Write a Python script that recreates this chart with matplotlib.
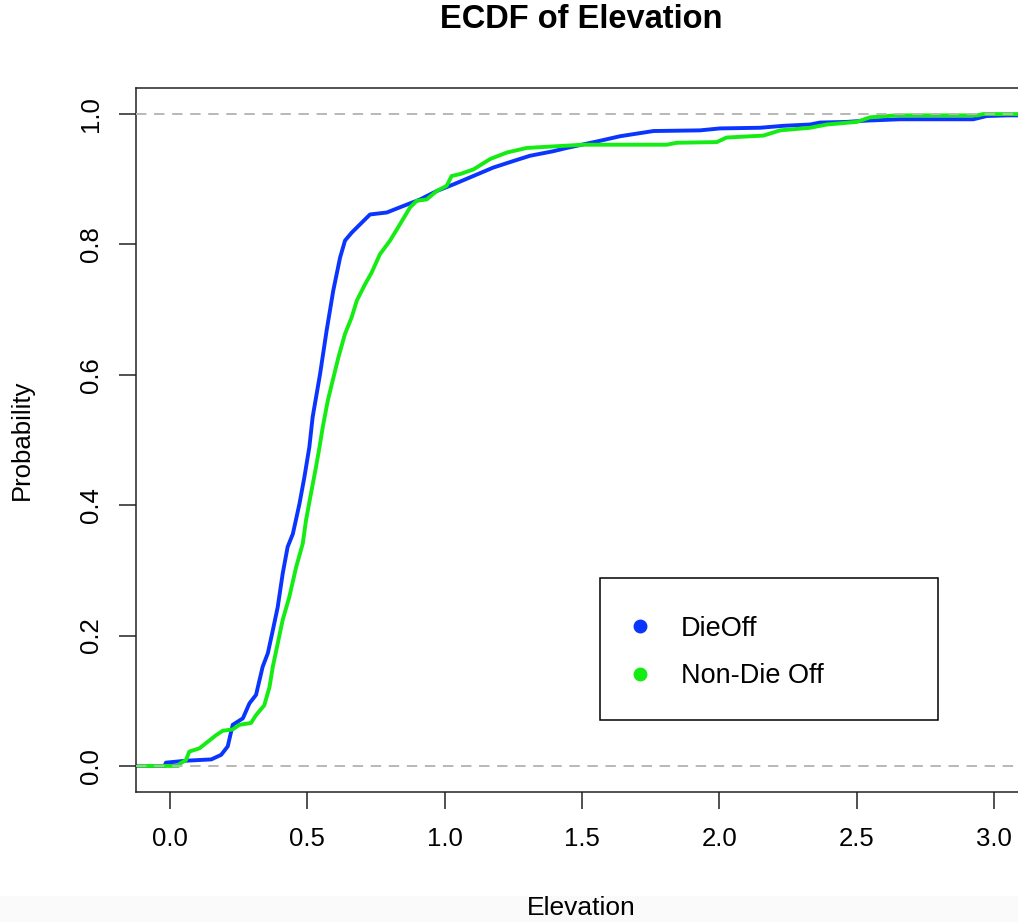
import matplotlib
matplotlib.use("Agg")
import matplotlib.pyplot as plt
from matplotlib.lines import Line2D
from matplotlib.patches import Rectangle

plt.rcParams['font.family'] = ['Liberation Sans', 'DejaVu Sans']
plt.rcParams['lines.scale_dashes'] = False

# ECDF (Elevation vs cumulative probability)
dieoff_x = [-0.02, -0.015, 0.058, 0.15, 0.186, 0.21, 0.228, 0.265, 0.289, 0.313, 0.337,
            0.356, 0.374, 0.392, 0.41, 0.428, 0.447, 0.471, 0.489, 0.507, 0.519, 0.546,
            0.570, 0.594, 0.619, 0.637, 0.661, 0.692, 0.728, 0.789, 0.837, 0.910, 0.971,
            1.031, 1.104, 1.177, 1.25, 1.31, 1.395, 1.444, 1.565, 1.638, 1.76, 1.929,
            2.002, 2.148, 2.233, 2.33, 2.366, 2.463, 2.536, 2.657, 2.924, 2.973, 3.05]
dieoff_y = [0.0, 0.005, 0.008, 0.01, 0.017, 0.03, 0.063, 0.073, 0.096, 0.109, 0.152,
            0.173, 0.208, 0.244, 0.295, 0.336, 0.356, 0.402, 0.443, 0.489, 0.535, 0.601,
            0.668, 0.729, 0.780, 0.806, 0.818, 0.831, 0.846, 0.849, 0.857, 0.869, 0.882,
            0.892, 0.905, 0.918, 0.928, 0.936, 0.943, 0.948, 0.959, 0.966, 0.974, 0.975,
            0.978, 0.979, 0.982, 0.984, 0.987, 0.988, 0.990, 0.992, 0.992, 0.997, 0.998]

nondie_x = [0.03, 0.034, 0.058, 0.070, 0.107, 0.131, 0.167, 0.192, 0.228, 0.252, 0.295,
            0.313, 0.343, 0.362, 0.374, 0.392, 0.41, 0.434, 0.459, 0.483, 0.495, 0.513,
            0.531, 0.544, 0.556, 0.574, 0.589, 0.613, 0.637, 0.661, 0.680, 0.710, 0.734,
            0.764, 0.801, 0.837, 0.874, 0.898, 0.934, 0.971, 1.007, 1.025, 1.056, 1.104,
            1.165, 1.226, 1.298, 1.42, 1.505, 1.808, 1.845, 1.99, 2.026, 2.16, 2.221,
            2.33, 2.391, 2.50, 2.548, 2.645, 2.94, 2.96]
nondie_y = [0.0, 0.003, 0.009, 0.022, 0.027, 0.035, 0.047, 0.054, 0.056, 0.063, 0.066,
            0.078, 0.093, 0.121, 0.152, 0.188, 0.224, 0.259, 0.305, 0.341, 0.377, 0.418,
            0.458, 0.489, 0.520, 0.560, 0.586, 0.627, 0.663, 0.688, 0.714, 0.739, 0.757,
            0.785, 0.806, 0.831, 0.857, 0.867, 0.869, 0.882, 0.890, 0.905, 0.908, 0.915,
            0.931, 0.941, 0.948, 0.951, 0.953, 0.953, 0.956, 0.957, 0.964, 0.967, 0.975,
            0.979, 0.984, 0.988, 0.995, 0.998, 0.998, 1.0]

series_labels = ["DieOff", "Non-Die Off"]
series_colors = ["#0A35FF", "#14EC14"]
x_ticks = [0.0, 0.5, 1.0, 1.5, 2.0, 2.5, 3.0]
y_ticks = [0.0, 0.2, 0.4, 0.6, 0.8, 1.0]
xlim = (-0.124, 3.116)
ylim = (-0.04, 1.04)

W, H = 1018, 922
fig = plt.figure(figsize=(W / 100, H / 100), dpi=100)
fig.patches.append(Rectangle((0, 0), 1, 26 / H, transform=fig.transFigure,
                             facecolor="#fafafa", edgecolor="none", zorder=-10))

ax = fig.add_axes([136 / W, 1 - 792 / H, (1026 - 136) / W, (792 - 88) / H])
ax.set_xlim(*xlim)
ax.set_ylim(*ylim)

# ECDF curves extend horizontally to the plot edges, like R's plot.ecdf
for xs, ys, col in [(dieoff_x, dieoff_y, series_colors[0]),
                    (nondie_x, nondie_y, series_colors[1])]:
    ax.plot([xlim[0]] + xs + [xlim[1]], [0.0] + ys + [ys[-1]], color=col,
            lw=2.8, solid_joinstyle="round", zorder=2)

for h in (0, 1):
    ax.axhline(h, color="#b8b8b8", lw=1.4, dashes=(7.5, 5.5), zorder=3)

ax.set_xticks(x_ticks)
ax.set_xticklabels(["%.1f" % v for v in x_ticks])
ax.set_yticks(y_ticks)
ax.set_yticklabels(["%.1f" % v for v in y_ticks], rotation=90, va="center")
ax.tick_params(axis="both", direction="out", length=12, width=1.1, labelsize=18.5,
               colors="#222222", labelcolor="black")
ax.tick_params(axis="x", pad=13.5)
ax.tick_params(axis="y", pad=12)
for s in ax.spines.values():
    s.set_linewidth(1.1)
    s.set_color("#222222")

fig.text(581 / W, 1 - 20 / H, "ECDF of Elevation", ha="center", va="center",
         fontsize=23.5, fontweight="bold")
fig.text(581 / W, 1 - 908 / H, "Elevation", ha="center", va="center", fontsize=19)
fig.text(22 / W, 1 - 440 / H, "Probability", ha="center", va="center",
         rotation=90, fontsize=18.5)

# legend: frame drawn separately, R-style with wide right margin
frame = Rectangle((600 / W, 1 - 720 / H), 338 / W, 142 / H, transform=fig.transFigure,
                  facecolor="white", edgecolor="black", lw=1.1, zorder=5, clip_on=False)
ax.add_patch(frame)
handles = [Line2D([], [], ls="none", marker="o", ms=9, color=c) for c in series_colors]
leg = ax.legend(handles, series_labels, loc="center left",
                bbox_to_anchor=(627.5 / W, 1 - 652.5 / H),
                bbox_transform=fig.transFigure, frameon=False, fontsize=19.5,
                borderpad=0, borderaxespad=0, handlelength=0.92, handletextpad=1.05,
                labelspacing=0.8)
leg.set_zorder(6)

fig.savefig("out.png", dpi=100)
